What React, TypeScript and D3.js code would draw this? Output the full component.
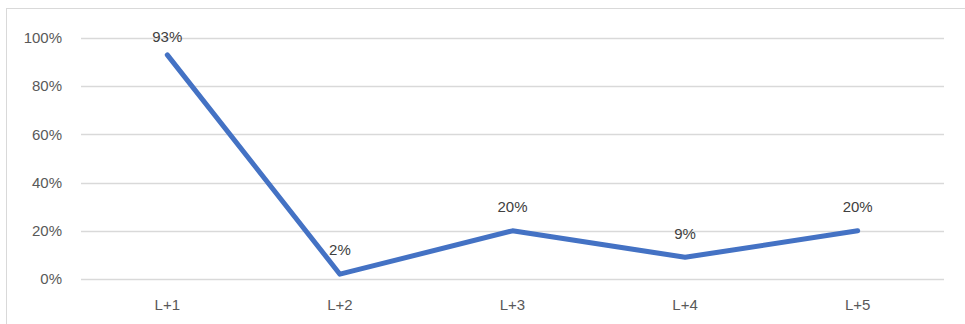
import { useEffect, useRef } from "react";
import * as d3 from "d3";

const categories = ["L+1", "L+2", "L+3", "L+4", "L+5"];
const values = [0.93, 0.02, 0.2, 0.09, 0.2];
const yTicks = [0, 0.2, 0.4, 0.6, 0.8, 1];

export default function App() {
  const svgRef = useRef<SVGSVGElement>(null);

  useEffect(() => {
    if (!svgRef.current) return;
    const svg = d3.select(svgRef.current);
    svg.selectAll("*").remove();

    const width = 965;
    const height = 324;
    const margin = { top: 38, right: 21, bottom: 45, left: 81 };
    const innerWidth = width - margin.left - margin.right;
    const innerHeight = height - margin.top - margin.bottom;
    const font = "'Liberation Sans', Arial, sans-serif";

    // chart frame
    svg
      .append("rect")
      .attr("x", 6.5)
      .attr("y", 8.5)
      .attr("width", 970)
      .attr("height", 330)
      .attr("fill", "#fff")
      .attr("stroke", "#d9d9d9");

    const g = svg
      .append("g")
      .attr("transform", `translate(${margin.left},${margin.top})`);

    const x = d3.scaleBand().domain(categories).range([0, innerWidth]);
    const y = d3.scaleLinear().domain([0, 1]).range([innerHeight, 0]);

    // gridlines
    g.selectAll(".grid")
      .data(yTicks)
      .join("line")
      .attr("x1", 0)
      .attr("x2", innerWidth)
      .attr("y1", (d) => Math.round(y(d)) + 0.5)
      .attr("y2", (d) => Math.round(y(d)) + 0.5)
      .attr("stroke", "#d9d9d9")
      .attr("stroke-width", 1.3);

    // y labels
    g.selectAll(".ylab")
      .data(yTicks)
      .join("text")
      .attr("x", -19)
      .attr("y", (d) => y(d))
      .attr("dy", "0.35em")
      .attr("text-anchor", "end")
      .attr("fill", "#595959")
      .attr("font-family", font)
      .attr("font-size", 15)
      .text((d) => d3.format(".0%")(d));

    // x labels
    g.selectAll(".xlab")
      .data(categories)
      .join("text")
      .attr("x", (d) => x(d)! + x.bandwidth() / 2)
      .attr("y", innerHeight + 26)
      .attr("dy", "0.35em")
      .attr("text-anchor", "middle")
      .attr("fill", "#595959")
      .attr("font-family", font)
      .attr("font-size", 15)
      .text((d) => d);

    const pts = categories.map((c, i) => ({ c, v: values[i] }));

    const line = d3
      .line<{ c: string; v: number }>()
      .x((d) => x(d.c)! + x.bandwidth() / 2)
      .y((d) => y(d.v));

    g.append("path")
      .datum(pts)
      .attr("fill", "none")
      .attr("stroke", "#4472c4")
      .attr("stroke-width", 5)
      .attr("stroke-linecap", "round")
      .attr("stroke-linejoin", "round")
      .attr("d", line);

    // data labels, kept inside the plot area like Excel does
    g.selectAll(".dlab")
      .data(pts)
      .join("text")
      .attr("x", (d) => x(d.c)! + x.bandwidth() / 2)
      .attr("y", (d) => Math.max(y(d.v) - 24, -1))
      .attr("dy", "0.35em")
      .attr("text-anchor", "middle")
      .attr("fill", "#404040")
      .attr("font-family", font)
      .attr("font-size", 15)
      .text((d) => d3.format(".0%")(d.v));
  }, []);

  return (
    <div style={{ position: "absolute", left: 0, top: 0 }}>
      <svg ref={svgRef} width={965} height={324} style={{ display: "block" }} />
    </div>
  );
}
